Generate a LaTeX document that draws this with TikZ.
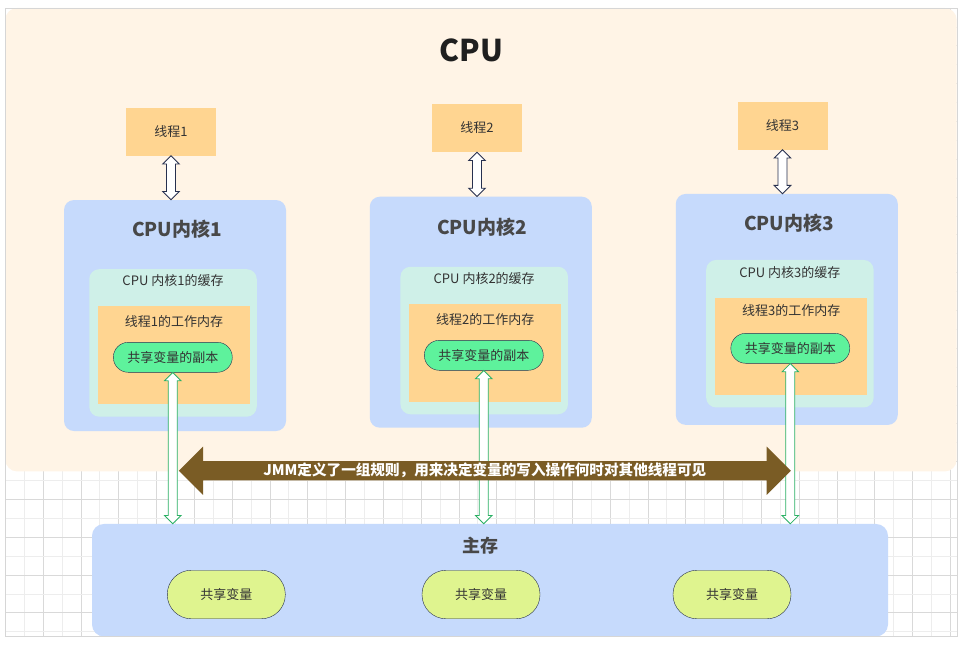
\documentclass[tikz,border=0pt]{standalone}
\usepackage{fontspec}
\setmainfont{Noto Sans CJK SC}
\usetikzlibrary{calc,shapes.arrows}

\definecolor{cpubg}{HTML}{FFF4E6}
\definecolor{threadfill}{HTML}{FFD591}
\definecolor{corefill}{HTML}{C6DAFC}
\definecolor{cachefill}{HTML}{CFF0E8}
\definecolor{copyfill}{HTML}{5EF29C}
\definecolor{varfill}{HTML}{DFF48F}
\definecolor{jmmbrown}{HTML}{7A5C25}
\definecolor{navyline}{HTML}{27304F}
\definecolor{greenline}{HTML}{2BB064}
\definecolor{txtdark}{HTML}{333333}
\definecolor{titlegray}{HTML}{484848}
\definecolor{gridminor}{HTML}{EDEDED}
\definecolor{gridmajor}{HTML}{D9D9D9}
\definecolor{framegray}{HTML}{D6D6D6}

\tikzset{
  smalltext/.style={font=\fontsize{13}{15}\selectfont, text=txtdark},
  thread/.style={smalltext, fill=threadfill, minimum width=90pt, minimum height=48pt},
  corebox/.style={fill=corefill, rounded corners=10pt, minimum width=222pt, minimum height=231pt},
  coretitle/.style={font=\bfseries\fontsize{19}{21}\selectfont, text=titlegray},
  cachebox/.style={fill=cachefill, rounded corners=10pt, minimum width=167.5pt, minimum height=147.5pt},
  workbox/.style={fill=threadfill, minimum width=152.5pt, minimum height=97.5pt},
  copyvar/.style={smalltext, fill=copyfill, draw=navyline, rounded corners=15pt, minimum width=119pt, minimum height=30pt},
  sharedvar/.style={smalltext, fill=varfill, draw=navyline, rounded corners=24pt, minimum width=118pt, minimum height=48.5pt},
  threadlink/.style={fill=white, draw=navyline, line width=0.9pt, line join=miter},
  memlink/.style={fill=white, draw=greenline, line width=0.8pt, line join=miter},
  jmmarrow/.style={double arrow, fill=jmmbrown, text=white,
    font=\bfseries\fontsize{14.6}{16}\selectfont,
    minimum height=612pt, minimum width=48pt, double arrow head extend=14.5pt,
    double arrow tip angle=90, inner xsep=0pt, inner ysep=2.5pt,
    text height=12pt, text depth=2pt},
}

% vertical double arrow from one node anchor to another
\newcommand{\fatlink}[3]{%
  \draw[#1] let \p1=(#2), \p2=(#3) in
    (\x1,\y1) -- (\x1+8.3pt,\y1-8.3pt) -- (\x1+4.5pt,\y1-8.3pt)
    -- (\x1+4.5pt,\y2+8.3pt) -- (\x1+8.3pt,\y2+8.3pt) -- (\x1,\y2)
    -- (\x1-8.3pt,\y2+8.3pt) -- (\x1-4.5pt,\y2+8.3pt)
    -- (\x1-4.5pt,\y1-8.3pt) -- (\x1-8.3pt,\y1-8.3pt) -- cycle;}

\begin{document}
\begin{tikzpicture}[x=1pt,y=-1pt]
  \useasboundingbox (0,0) rectangle (969,651);
  % background with grid
  \fill[white] (5.3,8) rectangle (957.3,636);
  \foreach \i in {1,3,...,49}
    \draw[gridminor, line width=0.8pt] (5.3+18.9*\i,8) -- (5.3+18.9*\i,636);
  \foreach \i in {2,4,...,50}
    \draw[gridmajor, line width=0.8pt] (5.3+18.9*\i,8) -- (5.3+18.9*\i,636);
  \foreach \j in {1,3,...,33}
    \draw[gridminor, line width=0.8pt] (5.3,8+18.9*\j) -- (957.3,8+18.9*\j);
  \foreach \j in {2,4,...,32}
    \draw[gridmajor, line width=0.8pt] (5.3,8+18.9*\j) -- (957.3,8+18.9*\j);

  % CPU
  \node[fill=cpubg, rounded corners=12pt, minimum width=951.4pt, minimum height=463.5pt] (cpu) at (481,239.7) {};
  \node[font=\bfseries\fontsize{30}{32}\selectfont, text=black!88] (cputitle) at (471.3,50) {CPU};

  % threads
  \node[thread] (t1) at (171,131.5) {线程1};
  \node[thread] (t2) at (477,128) {线程2};
  \node[thread] (t3) at (782.5,125.5) {线程3};

  % core 1
  \node[corebox] (c1) at (175,315.5) {};
  \node[coretitle] (c1title) at (177,229.3) {CPU内核1};
  \node[cachebox] (k1) at (173,342.9) {};
  \node[smalltext] (k1title) at (173,280.7) {CPU 内核1的缓存};
  \node[workbox] (w1) at (173.9,354.9) {};
  \node[smalltext] (w1title) at (173.9,321.7) {线程1的工作内存};
  \node[copyvar] (v1) at (172.8,357.3) {共享变量的副本};

  % core 2
  \node[corebox] (c2) at (480.8,312.2) {};
  \node[coretitle] (c2title) at (482,226.7) {CPU内核2};
  \node[cachebox] (k2) at (484.2,340.5) {};
  \node[smalltext] (k2title) at (484.2,279) {CPU 内核2的缓存};
  \node[workbox] (w2) at (485.2,352.9) {};
  \node[smalltext] (w2title) at (485.2,319.3) {线程2的工作内存};
  \node[copyvar] (v2) at (483.8,355.3) {共享变量的副本};

  % core 3
  \node[corebox] (c3) at (786.8,309.4) {};
  \node[coretitle] (c3title) at (789,223.3) {CPU内核3};
  \node[cachebox] (k3) at (789.9,333.7) {};
  \node[smalltext] (k3title) at (789.9,272.3) {CPU 内核3的缓存};
  \node[workbox] (w3) at (791.2,346.3) {};
  \node[smalltext] (w3title) at (791.2,311) {线程3的工作内存};
  \node[copyvar] (v3) at (790.3,348.3) {共享变量的副本};

  % main memory
  \node[fill=corefill, rounded corners=12pt, minimum width=796pt, minimum height=112.5pt] (mem) at (490,580.2) {};
  \node[coretitle, font=\bfseries\fontsize{18}{20}\selectfont] (memtitle) at (480,545.7) {主存};
  \node[sharedvar] (s1) at (226.3,594.5) {共享变量};
  \node[sharedvar] (s2) at (481,594.5) {共享变量};
  \node[sharedvar] (s3) at (732,594.5) {共享变量};

  % links
  \fatlink{threadlink}{t1.south}{c1.north}
  \fatlink{threadlink}{t2.south}{c2.north}
  \fatlink{threadlink}{t3.south}{c3.north}
  \fatlink{memlink}{v1.south}{mem.north}
  \fatlink{memlink}{v2.south}{mem.north}
  \fatlink{memlink}{v3.south}{mem.north}

  % JMM rule
  \node[jmmarrow] (jmm) at (484.8,470.7) {JMM定义了一组规则，用来决定变量的写入操作何时对其他线程可见};

  \draw[framegray, line width=0.8pt] (5.3,8) rectangle (957.3,636);
\end{tikzpicture}
\end{document}
